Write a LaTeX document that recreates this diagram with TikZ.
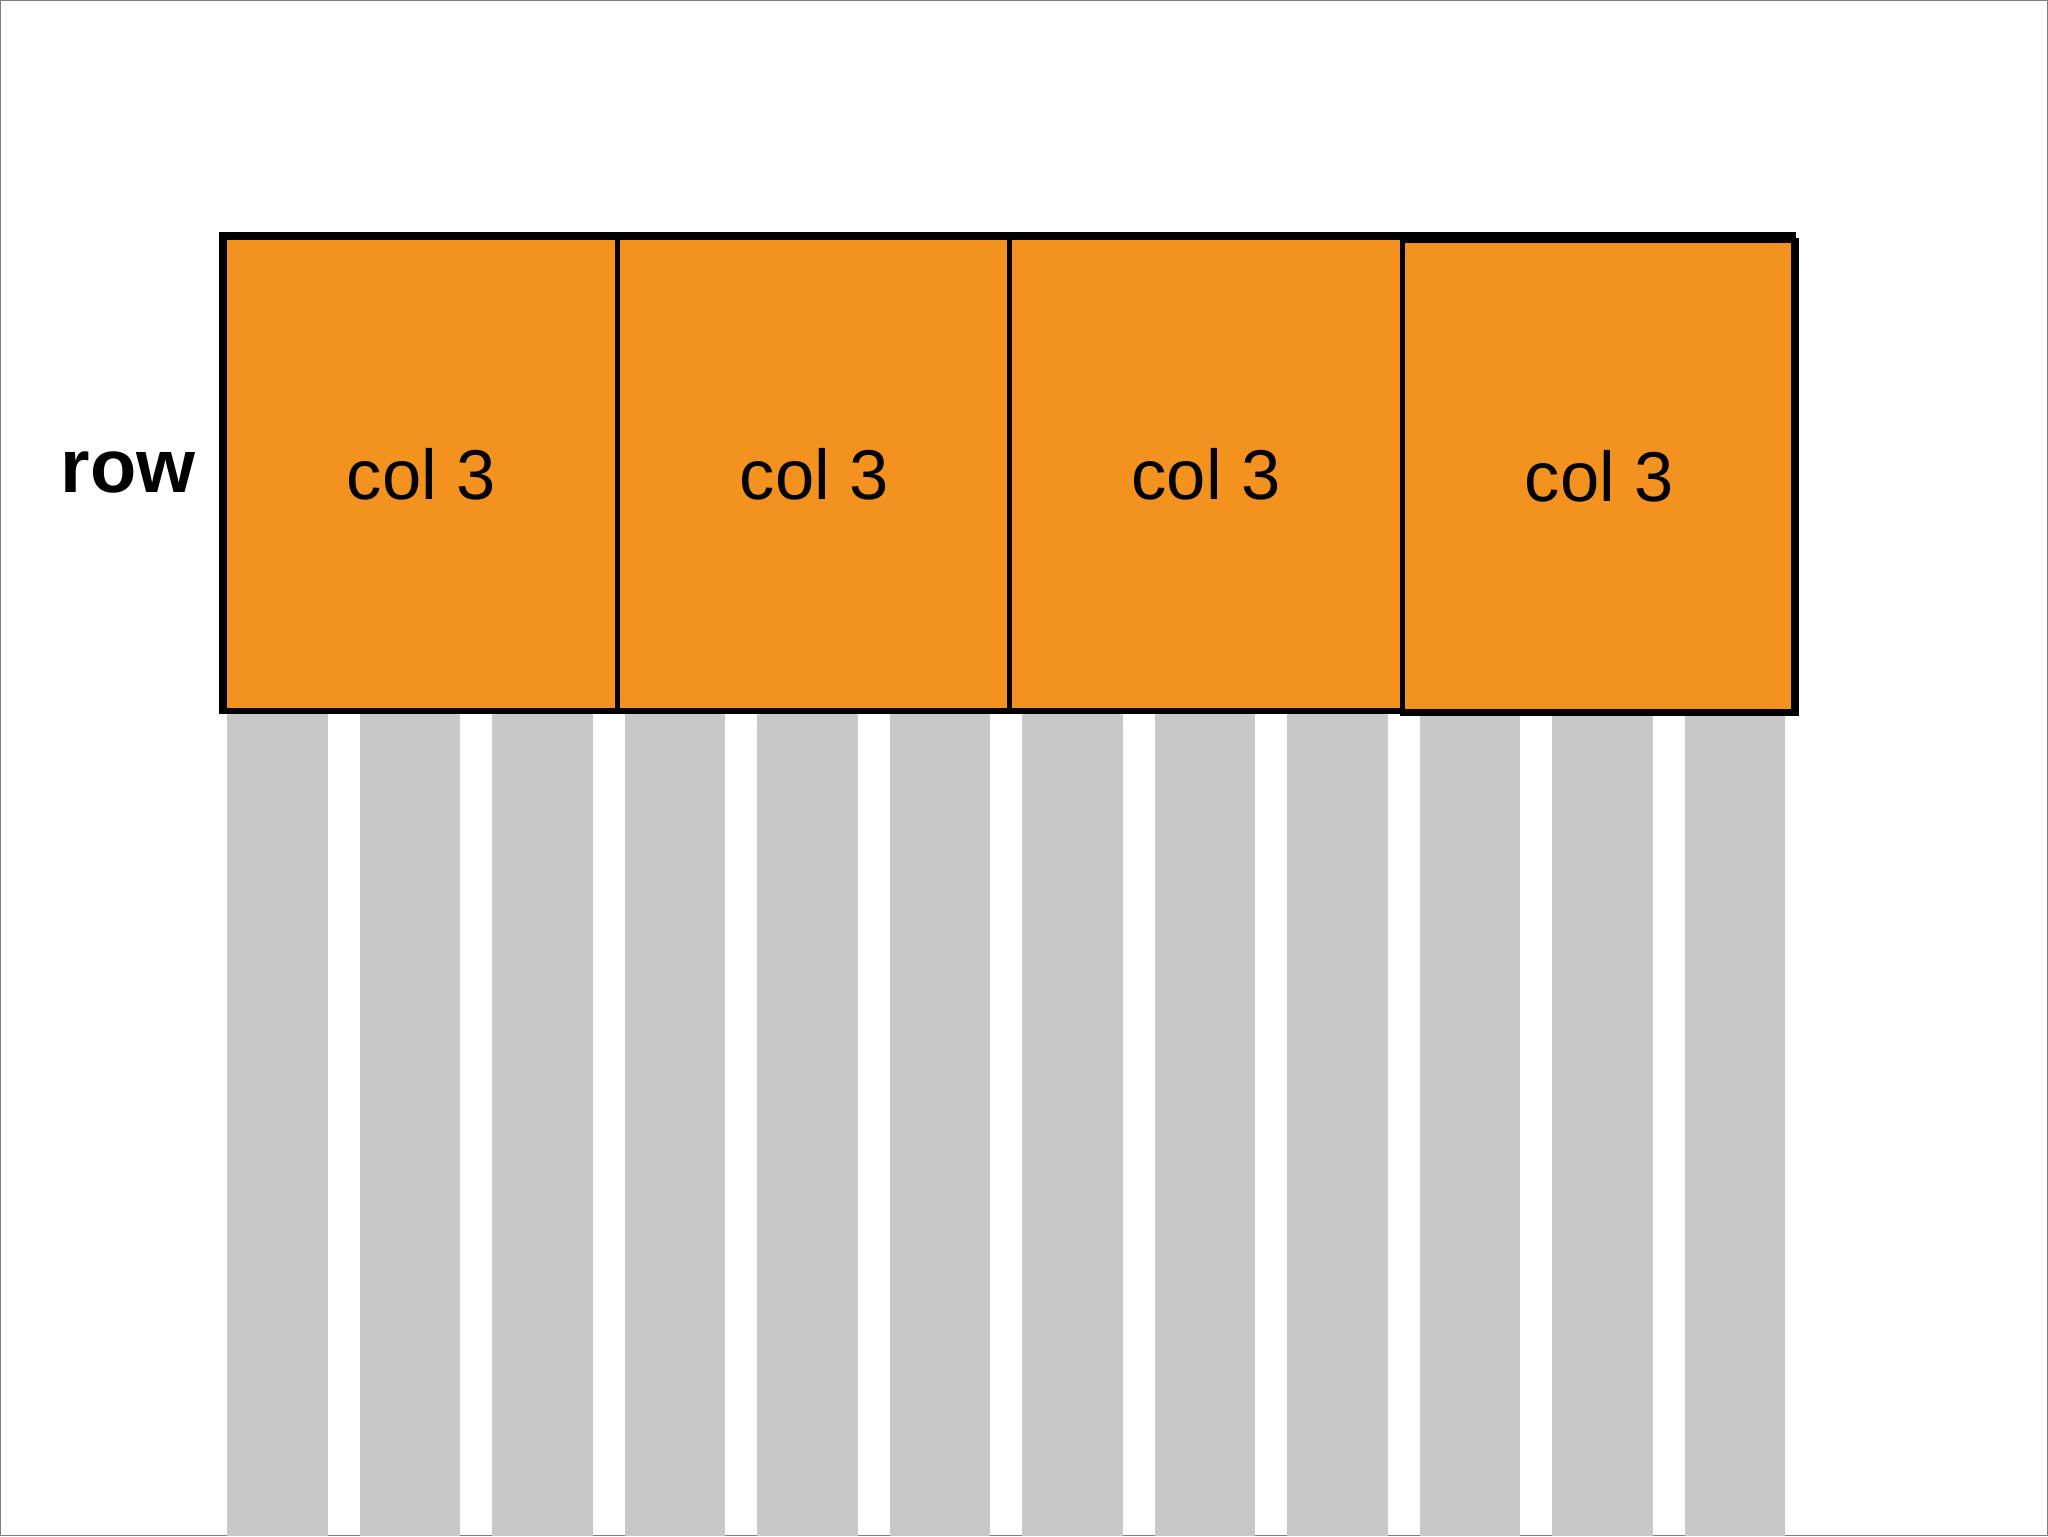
\documentclass[tikz,border=0pt]{standalone}
\usepackage{fontspec}
\setmainfont{Liberation Sans}
\definecolor{og}{HTML}{F3921E}
\definecolor{gc}{HTML}{C8C8C8}
\begin{document}
\begin{tikzpicture}[x=1pt,y=-1pt,
  cell/.style={draw=black,line width=4pt,fill=og,minimum width=301pt,minimum height=362pt,inner sep=0pt,anchor=north west,font=\fontsize{54}{60}\selectfont},
  gcol/.style={fill=gc,draw=none}]
\useasboundingbox (0,0) rectangle (1568,1176);
\draw[gray,line width=1pt] (0.5,0.5) rectangle (1567.5,1175.5);
\foreach \i in {0,...,11}{
  \fill[gc] ({174+101.45*\i},547) rectangle ({251+101.45*\i},1176);
}
\node[cell] (c1) at (170,180) {col 3};
\node[cell] (c2) at (471,180) {col 3};
\node[cell] (c3) at (771,180) {col 3};
\node[cell,minimum height=362pt] (c4) at (1072,182) {col 3};
\draw[line width=4pt] (170,180) rectangle (1373,545);
\node[font=\bfseries\fontsize{58}{64}\selectfont,anchor=east] (row) at (153,362) {row};
\end{tikzpicture}
\end{document}
